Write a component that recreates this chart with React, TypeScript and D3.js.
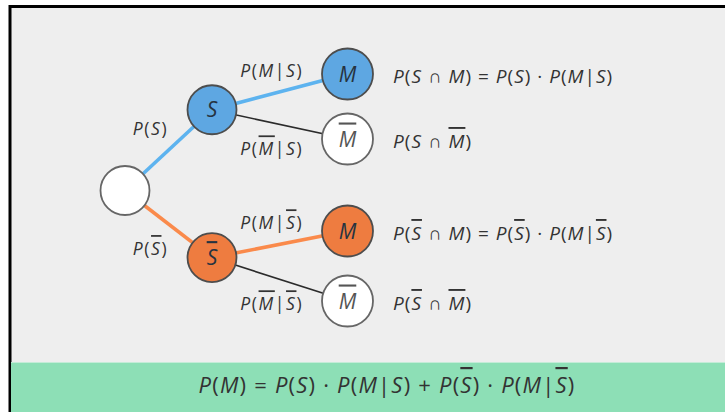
import React from 'react';
import * as d3 from 'd3';

// Tree of events: S (or not S), then M (or not M). "~X" means X with an overline.
const nodeLabels = ['', 'S', '~S', 'M', '~M', 'M', '~M'];
const nodeParent = [-1, 0, 0, 1, 1, 2, 2];
const nodeDepth = [0, 1, 1, 2, 2, 2, 2];
const nodeSlot = [1.56, 0.55, 2.38, 0, 1, 2, 3];
const nodeTone = ['none', 'blue', 'orange', 'blue', 'none', 'orange', 'none'];

const edgeLabels = ['', 'P(S)', 'P(~S)', 'P(M|S)', 'P(~M|S)', 'P(M|~S)', 'P(~M|~S)'];

const outcomeFormulas = [
  'P(S ∩ M) = P(S) · P(M|S)',
  'P(S ∩ ~M)',
  'P(~S ∩ M) = P(~S) · P(M|~S)',
  'P(~S ∩ ~M)'
];

const totalFormula = 'P(M) = P(S) · P(M|S) + P(~S) · P(M|~S)';

const W = 725;
const H = 412;
const FONT = '"Open Sans", sans-serif';

const fills: Record<string, string> = { none: '#ffffff', blue: '#5ea7e2', orange: '#ee7c40' };
const edgeColors: Record<string, string> = { none: '#2b2b2b', blue: '#5db3ef', orange: '#fa8a4b' };

// letters italic, punctuation upright, "~" puts a bar over the next letter
function mathSpans(src: string) {
  const out: React.ReactNode[] = [];
  let i = 0;
  let k = 0;
  while (i < src.length) {
    let ch = src[i];
    let bar = false;
    if (ch === '~') {
      bar = true;
      i++;
      ch = src[i];
    }
    const isLetter = /[A-Z]/.test(ch);
    out.push(
      <tspan
        key={k++}
        fontStyle={isLetter ? 'italic' : 'normal'}
        style={bar ? { textDecoration: 'overline' } : undefined}
      >
        {ch === ' ' ? '\u00a0' : ch}
      </tspan>
    );
    i++;
  }
  return out;
}

export default function App() {
  const x = d3.scaleLinear().domain([0, 1, 2]).range([125, 212, 347.5]);
  const y = d3.scaleLinear().domain([0, 1, 2, 3]).range([74, 139, 231, 301]);
  const radius = d3.scaleOrdinal<number, number>().domain([0, 1, 2]).range([24.5, 24.5, 25.5]);
  const labelShift = [0, -18, -8];

  const nodes = nodeLabels.map((label, i) => ({
    i,
    label,
    cx: x(nodeDepth[i]),
    cy: y(nodeSlot[i]),
    r: radius(nodeDepth[i]),
    tone: nodeTone[i]
  }));

  const edges = nodes.filter(n => nodeParent[n.i] >= 0).map(n => {
    const p = nodes[nodeParent[n.i]];
    const first = nodeParent.indexOf(nodeParent[n.i]) === n.i;
    return { p, n, first };
  });

  const leaves = nodes.filter(n => nodeDepth[n.i] === 2);

  return (
    <svg
      width={W}
      height={H}
      style={{ position: 'absolute', left: 0, top: 0, fontFamily: FONT }}
    >
      <rect x={0} y={0} width={W} height={H} fill="#ffffff" />
      <rect x={10} y={7} width={W - 10} height={H - 7} fill="#eeeeee" />
      <line x1={9} x2={W} y1={6.5} y2={6.5} stroke="#000" strokeWidth={3} />
      <line x1={10} x2={10} y1={5} y2={H} stroke="#000" strokeWidth={3} />

      {edges.map(({ p, n }) => (
        <line
          key={'e' + n.i}
          x1={p.cx}
          y1={p.cy}
          x2={n.cx}
          y2={n.cy}
          stroke={edgeColors[n.tone]}
          strokeWidth={n.tone === 'none' ? 1.6 : 3.6}
        />
      ))}

      {edges.map(({ p, n, first }) => {
        const mx = (p.cx + n.cx) / 2 + labelShift[nodeDepth[n.i]];
        const my = (p.cy + n.cy) / 2 + (first ? -15 : 31);
        return (
          <text key={'l' + n.i} x={mx} y={my} textAnchor="middle" fontSize={17.5} letterSpacing={1.6} fill="#333">
            {mathSpans(edgeLabels[n.i])}
          </text>
        );
      })}

      {nodes.map(n => (
        <g key={'n' + n.i}>
          <circle
            cx={n.cx}
            cy={n.cy}
            r={n.r}
            fill={fills[n.tone]}
            stroke={n.tone === 'none' ? '#666' : '#4d4d4d'}
            strokeWidth={1.8}
          />
          {n.label && (
            <text
              x={n.cx}
              y={n.cy + 7.5}
              textAnchor="middle"
              fontSize={21}
              fill={n.tone === 'none' ? '#555' : '#263340'}
            >
              {mathSpans(n.label)}
            </text>
          )}
        </g>
      ))}

      {leaves.map((n, j) => (
        <text key={'o' + j} x={393} y={n.cy + 9} fontSize={19} letterSpacing={1} fill="#333">
          {mathSpans(outcomeFormulas[j])}
        </text>
      ))}

      <rect x={11} y={362} width={W - 11} height={H - 362} fill="#8ddfb6" />
      <line x1={11} x2={W} y1={362.5} y2={362.5} stroke="#c4ecd8" strokeWidth={1} />
      <text x={387} y={393} textAnchor="middle" fontSize={22} letterSpacing={1.2} fill="#333">
        {mathSpans(totalFormula)}
      </text>
    </svg>
  );
}
